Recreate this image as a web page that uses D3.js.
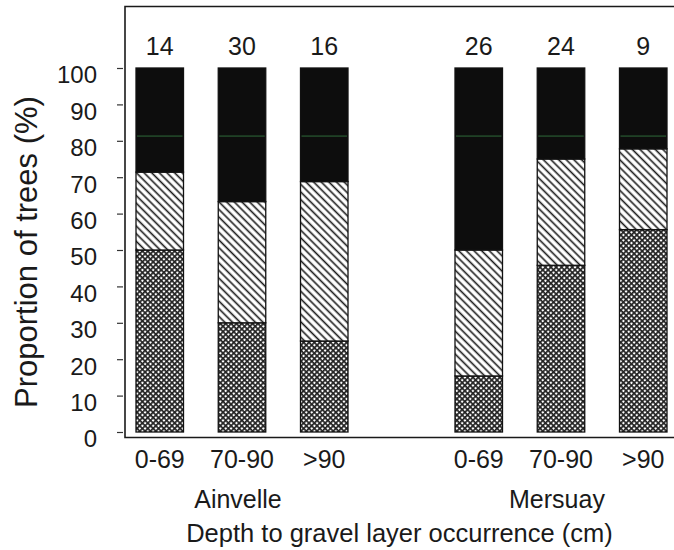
<!DOCTYPE html>
<html>
<head>
<meta charset="utf-8">
<script src="https://cdn.jsdelivr.net/npm/d3@7"></script>
<style>
  html, body { margin: 0; padding: 0; background: #fff; }
  svg { display: block; }
  text { font-family: "Liberation Sans", Arial, Helvetica, sans-serif; fill: #1a1a1a; }
</style>
</head>
<body>
<svg id="chart" width="674" height="550"></svg>
<script>
// ---- data ----
const groups = ["Ainvelle", "Mersuay"];
const depthClasses = ["0-69", "70-90", ">90"];
const sampleSizes = [14, 30, 16, 26, 24, 9];
// percentages of trees, stacked bottom -> top
const lowerPct  = [50.0, 30.0, 25.0, 15.4, 45.8, 55.6];   // cross-hatched
const middlePct = [21.4, 33.3, 43.8, 34.6, 29.2, 22.2];   // diagonal hatched
const upperPct  = [28.6, 36.7, 31.2, 50.0, 25.0, 22.2];   // solid black
const yTicks = [0, 10, 20, 30, 40, 50, 60, 70, 80, 90, 100];
const yTitle = "Proportion of trees (%)";
const xTitle = "Depth to gravel layer occurrence (cm)";
const scanLineLevel = 81.3; // faint green line seen across the black segments

// ---- build rows ----
const rows = [];
groups.forEach((g, gi) => {
  depthClasses.forEach((d, di) => {
    const i = gi * depthClasses.length + di;
    rows.push({ group: g, depth: d, n: sampleSizes[i],
      lower: lowerPct[i], middle: middlePct[i], upper: upperPct[i] });
  });
});
const keys = ["lower", "middle", "upper"];
const stack = d3.stack().keys(keys)(rows);

// ---- layout ----
const svg = d3.select("#chart");
const axisX = 125, frameTop = 6.5, axisBottomY = 437.5, rightEdge = 674;

const y = d3.scaleLinear().domain([0, 100]).range([432, 68]);
const xOuter = d3.scaleBand().domain(groups).range([136, 667]).paddingInner(0.3354).paddingOuter(0);
const xInner = d3.scaleBand().domain(depthClasses).range([0, xOuter.bandwidth()]).paddingInner(0.4225).paddingOuter(0);
const xPos = d => xOuter(d.group) + xInner(d.depth);

// ---- patterns ----
const defs = svg.append("defs");
const hatch = defs.append("pattern").attr("id", "hatch")
  .attr("patternUnits", "userSpaceOnUse").attr("width", 5.4).attr("height", 5.4)
  .attr("patternTransform", "rotate(-45)");
hatch.append("rect").attr("width", 5.4).attr("height", 5.4).attr("fill", "#fff");
hatch.append("line").attr("x1", 1.3).attr("y1", 0).attr("x2", 1.3).attr("y2", 5.4)
  .attr("stroke", "#1a1a1a").attr("stroke-width", 1.6);

const cross = defs.append("pattern").attr("id", "cross")
  .attr("patternUnits", "userSpaceOnUse").attr("width", 3.8).attr("height", 3.8)
  .attr("patternTransform", "rotate(45)");
cross.append("rect").attr("width", 3.8).attr("height", 3.8).attr("fill", "#fff");
cross.append("line").attr("x1", 0.8).attr("y1", 0).attr("x2", 0.8).attr("y2", 3.8)
  .attr("stroke", "#222").attr("stroke-width", 1.8);
cross.append("line").attr("x1", 0).attr("y1", 0.8).attr("x2", 3.8).attr("y2", 0.8)
  .attr("stroke", "#222").attr("stroke-width", 1.8);

const fills = { lower: "url(#cross)", middle: "url(#hatch)", upper: "#0d0d0d" };

// ---- bars ----
const layers = svg.append("g").selectAll("g").data(stack).join("g")
  .attr("fill", s => fills[s.key]);
layers.selectAll("rect").data(s => s).join("rect")
  .attr("x", d => xPos(d.data))
  .attr("width", xInner.bandwidth())
  .attr("y", d => y(d[1]))
  .attr("height", d => y(d[0]) - y(d[1]))
  .attr("stroke", "#111").attr("stroke-width", 1.3);

// faint scan line over black segments
svg.append("g").selectAll("line")
  .data(stack.find(s => s.key === "upper").filter(d => d[0] < scanLineLevel && d[1] > scanLineLevel))
  .join("line")
  .attr("x1", d => xPos(d.data) + 1).attr("x2", d => xPos(d.data) + xInner.bandwidth() - 1)
  .attr("y1", y(scanLineLevel)).attr("y2", y(scanLineLevel))
  .attr("stroke", "#2f6a3a").attr("stroke-width", 1);

// sample sizes above bars
svg.append("g").selectAll("text").data(rows).join("text")
  .attr("x", d => xPos(d) + xInner.bandwidth() / 2)
  .attr("y", 55)
  .attr("text-anchor", "middle")
  .attr("font-size", 25)
  .text(d => d.n);

// ---- frame ----
svg.append("path")
  .attr("d", `M${rightEdge},${frameTop}H${axisX}V${axisBottomY}H${rightEdge}`)
  .attr("fill", "none").attr("stroke", "#1a1a1a").attr("stroke-width", 1.6);

// ---- y axis ----
const yAxis = svg.append("g").attr("transform", `translate(${axisX - 2},0)`)
  .call(d3.axisLeft(y).tickValues(yTicks).tickSize(6).tickPadding(20));
yAxis.select(".domain").remove();
yAxis.selectAll(".tick line").attr("stroke", "#333").attr("stroke-width", 1.2);
yAxis.selectAll(".tick text").attr("font-size", 24).attr("dy", "0.62em")
  .attr("font-family", "Liberation Sans, Arial, sans-serif").attr("fill", "#1a1a1a");

// ---- x category labels ----
groups.forEach(g => {
  const ax = svg.append("g").attr("transform", `translate(${xOuter(g)},${axisBottomY})`)
    .call(d3.axisBottom(xInner).tickSize(0).tickPadding(13));
  ax.select(".domain").remove();
  ax.selectAll(".tick text").attr("font-size", 25)
    .attr("font-family", "Liberation Sans, Arial, sans-serif").attr("fill", "#1a1a1a");
});

// group labels
svg.append("g").selectAll("text").data(groups).join("text")
  .attr("x", g => xOuter(g) + xOuter.bandwidth() / 2 - 4)
  .attr("y", 508)
  .attr("text-anchor", "middle")
  .attr("font-size", 25)
  .text(g => g);

// x title
svg.append("text")
  .attr("x", (axisX + rightEdge) / 2).attr("y", 542)
  .attr("text-anchor", "middle").attr("font-size", 25.5)
  .text(xTitle);

// y title
svg.append("text")
  .attr("transform", "translate(37,252) rotate(-90)")
  .attr("text-anchor", "middle").attr("font-size", 31)
  .text(yTitle);
</script>
</body>
</html>
